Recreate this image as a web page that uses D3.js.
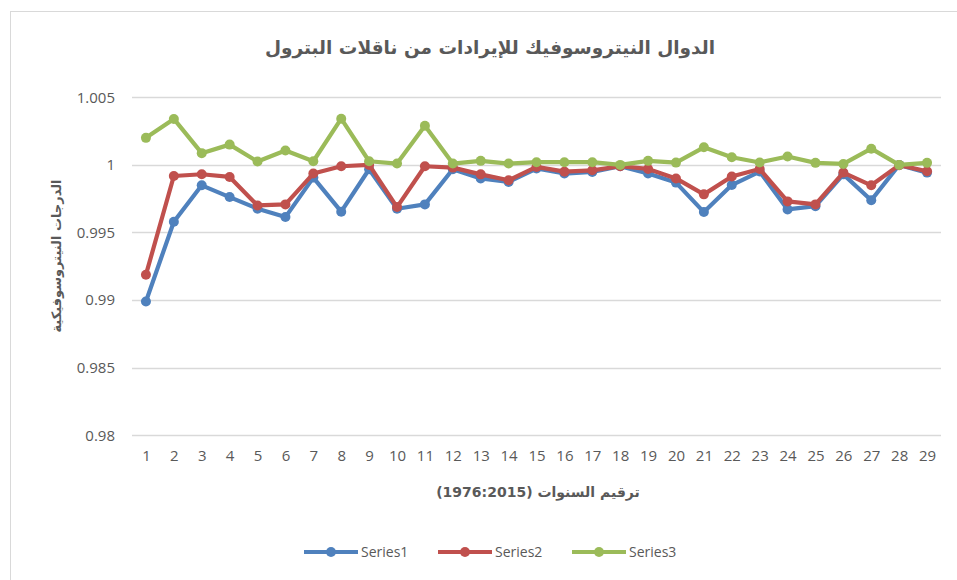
<!DOCTYPE html>
<html><head><meta charset="utf-8">
<script src="https://cdn.jsdelivr.net/npm/d3@7"></script>
<style>
html,body{margin:0;padding:0;background:#fff;}
svg{display:block;}
</style></head>
<body>
<svg id="chart" width="957" height="580"></svg>
<script>
const categories = [1,2,3,4,5,6,7,8,9,10,11,12,13,14,15,16,17,18,19,20,21,22,23,24,25,26,27,28,29];
const series1 = [0.9899,0.9958,0.99849,0.99762,0.99676,0.99614,0.99906,0.99654,0.99968,0.99676,0.99708,0.99968,0.9990,0.99874,0.99973,0.99936,0.99948,0.9999,0.99936,0.99869,0.99651,0.99851,0.99951,0.99671,0.99695,0.9993,0.99738,1.0000,0.99943];
const series2 = [0.99188,0.99918,0.99931,0.99911,0.99700,0.99708,0.99936,0.9999,1.0000,0.99688,0.9999,0.9998,0.9993,0.99886,0.99985,0.9995,0.9996,0.9999,0.9997,0.9990,0.99782,0.99914,0.9997,0.9973,0.99708,0.99943,0.99849,0.99998,0.99953];
const series3 = [1.0020,1.0034,1.00087,1.0015,1.00025,1.00107,1.00027,1.00342,1.00027,1.0001,1.0029,1.0001,1.0003,1.0001,1.0002,1.0002,1.0002,1.0000,1.0003,1.00017,1.0013,1.00057,1.00018,1.00062,1.00015,1.00007,1.0012,1.0000,1.00015];
const seriesNames = ["Series1","Series2","Series3"];
const seriesColors = ["#4f81bd","#c0504d","#9bbb59"];
const yTicks = [0.98,0.985,0.99,0.995,1,1.005];
const yTickLabels = ["0.98","0.985","0.99","0.995","1","1.005"];
const title = "الدوال النيتروسوفيك للإيرادات من ناقلات البترول";
const xTitle = "ترقيم السنوات (1976:2015)";
const yTitle = "الدرجات النيتروسوفيكية";

const svg = d3.select("#chart");
const L = 132, R = 941, T = 97.3, B = 435.3;
const textColor = "#595959";
const latin = "'Open Sans', 'Noto Sans', sans-serif";
const arabic = "'DejaVu Sans', sans-serif";

// outer frame
svg.append("rect").attr("x",10.5).attr("y",11.5).attr("width",980).attr("height",600)
  .attr("fill","#fff").attr("stroke","#d9d9d9").attr("stroke-width",1);

const x = d3.scalePoint().domain(categories).range([L,R]).padding(0.5);
const y = d3.scaleLinear().domain([0.98,1.005]).range([B,T]);

// gridlines
svg.append("g").selectAll("line").data(yTicks).join("line")
  .attr("x1",L).attr("x2",R)
  .attr("y1",d=>Math.round(y(d))+0.5).attr("y2",d=>Math.round(y(d))+0.5)
  .attr("stroke","#d9d9d9").attr("stroke-width",1.3);

// y axis labels
const yAxis = d3.axisLeft(y).tickValues(yTicks).tickFormat((d,i)=>yTickLabels[i]).tickSize(0).tickPadding(0);
const gy = svg.append("g").attr("transform",`translate(${L-17},0)`).call(yAxis);
gy.select(".domain").remove();
gy.selectAll("text").attr("font-family",latin).attr("font-size",15).attr("fill",textColor);

// x axis labels
const xAxis = d3.axisBottom(x).tickSize(0).tickPadding(0);
const gx = svg.append("g").attr("transform",`translate(0,${B+15})`).call(xAxis);
gx.select(".domain").remove();
gx.selectAll("text").attr("font-family",latin).attr("font-size",15).attr("fill",textColor);

// series
const allSeries = [series1,series2,series3];
const line = d3.line().x((d,i)=>x(categories[i])).y(d=>y(d));
allSeries.forEach((s,k)=>{
  const g = svg.append("g");
  g.append("path").datum(s).attr("d",line).attr("fill","none")
    .attr("stroke",seriesColors[k]).attr("stroke-width",4.2).attr("stroke-linejoin","round").attr("stroke-linecap","round");
  g.selectAll("circle").data(s).join("circle")
    .attr("cx",(d,i)=>x(categories[i])).attr("cy",d=>y(d)).attr("r",5)
    .attr("fill",seriesColors[k]);
});

// title
svg.append("text").attr("x",490).attr("y",54).attr("text-anchor","middle")
  .attr("direction","rtl").style("direction","rtl")
  .attr("font-family",arabic).attr("font-weight","bold").attr("font-size",18.5)
  .attr("fill",textColor).text(title);

// x title
svg.append("text").attr("x",538).attr("y",497).attr("text-anchor","middle")
  .attr("direction","rtl").style("direction","rtl")
  .attr("font-family",arabic).attr("font-weight","bold").attr("font-size",14)
  .attr("fill",textColor).text(xTitle);

// y title
svg.append("text").attr("transform","translate(61,256) rotate(-90)").attr("text-anchor","middle")
  .attr("direction","rtl").style("direction","rtl")
  .attr("font-family",arabic).attr("font-weight","bold").attr("font-size",13)
  .attr("fill",textColor).text(yTitle);

// legend
const legendX = [304,438,572];
const lg = svg.append("g");
seriesNames.forEach((n,k)=>{
  const gx0 = legendX[k], ly = 552;
  lg.append("line").attr("x1",gx0).attr("x2",gx0+54).attr("y1",ly).attr("y2",ly)
    .attr("stroke",seriesColors[k]).attr("stroke-width",4.2);
  lg.append("circle").attr("cx",gx0+27).attr("cy",ly).attr("r",5).attr("fill",seriesColors[k]);
  lg.append("text").attr("x",gx0+57).attr("y",ly+5).attr("font-family",latin).attr("font-size",14)
    .attr("fill",textColor).text(n);
});
</script>
</body></html>
